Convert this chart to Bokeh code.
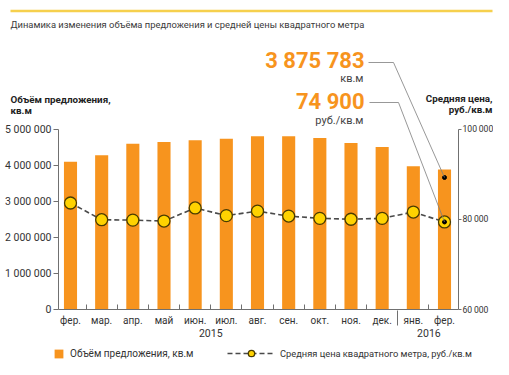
from bokeh.plotting import figure
from bokeh.models import Range1d, LinearAxis, FixedTicker, Label, Arrow, Legend, LegendItem
from bokeh.embed import file_html
from bokeh.resources import INLINE

# ---------------- data ----------------
months = ["фер.", "мар.", "апр.", "май", "июн.", "июл.", "авг.", "сен.", "окт.", "ноя.", "дек.", "янв.", "фер."]
years = ["2015", "2016"]
year_label_pos = [4.5, 11.5]
year_boundary = [10.5]
volume = [4090000, 4270000, 4590000, 4640000, 4690000, 4730000, 4800000,
          4800000, 4750000, 4610000, 4500000, 3970000, 3875783]
price = [83600, 79900, 79800, 79600, 82500, 80800, 81800,
         80700, 80200, 80000, 80200, 81600, 79400]
vol_ticks = [0, 1000000, 2000000, 3000000, 4000000, 5000000]
price_ticks = [60000, 80000, 100000]
price_annot = 74900

title = "Динамика изменения объёма предложения и средней цены квадратного метра"
vol_title = ["Объём предложения,", "кв.м"]
price_title = ["Средняя цена,", "руб./кв.м"]
vol_unit = "кв.м"
price_unit = "руб./кв.м"
legend_vol = "Объём предложения, кв.м"
legend_price = "Средняя цена квадратного метра, руб./кв.м"

# ---------------- style / layout ----------------
ORANGE = "#F7941E"
YELLOW = "#FFD200"
GOLD = "#F6D04D"
TXT = "#333333"
AX = "#707070"
FONT = "Roboto"

W, H = 493, 359
FL, FR, FT, FB = 58, 458, 128.5, 309      # plot-area edges in canvas pixels
X0 = 70
DX = (FR - 14 - X0) / 12
P0, P1 = 60000, 100000


def sx(px):
    return (px - X0) / DX


def sy(py):
    return (FB - py) * 5e6 / (FB - FT)


def sp(py):
    return P0 + (FB - py) / (FB - FT) * (P1 - P0)


def fmt(v, sep=" "):
    return f"{int(v):,}".replace(",", sep)


def price_to_left(v):
    return (v - P0) / (P1 - P0) * 5e6


xs = list(range(len(months)))

# the frame covers the whole canvas; axes are pinned with fixed_location
p = figure(width=W, height=H, output_backend="svg", toolbar_location=None,
           x_range=Range1d(sx(0), sx(W)), y_range=Range1d(sy(H), sy(0)),
           x_axis_type=None, y_axis_type=None,
           min_border_left=0, min_border_right=0, min_border_top=0, min_border_bottom=0)
p.outline_line_color = None
p.background_fill_color = "white"
p.border_fill_color = "white"
p.extra_y_ranges = {"price": Range1d(sp(H), sp(0))}


def style_axis(a, size="10px"):
    a.axis_line_color = AX
    a.major_tick_line_color = AX
    a.minor_tick_line_color = AX
    a.major_label_text_font = FONT
    a.major_label_text_font_size = size
    a.major_label_text_color = TXT


yl = LinearAxis(ticker=FixedTicker(ticks=vol_ticks), fixed_location=sx(FL), bounds=(0, 5e6),
                major_label_overrides={t: fmt(t) for t in vol_ticks})
style_axis(yl, "10.5px")
yl.major_tick_in = 0
yl.major_tick_out = 5
yl.major_label_standoff = 2
p.add_layout(yl, "left")

yr = LinearAxis(y_range_name="price", ticker=FixedTicker(ticks=price_ticks), fixed_location=sx(FR),
                bounds=(P0, P1), major_label_overrides={t: fmt(t, "\u2009") for t in price_ticks})
style_axis(yr, "8.6px")
yr.major_tick_in = 0
yr.major_tick_out = 3
yr.major_label_standoff = 1
p.add_layout(yr, "right")

xm = LinearAxis(ticker=FixedTicker(ticks=xs, minor_ticks=[i + 0.5 for i in range(len(months) - 1)
                                                           if i + 0.5 not in year_boundary]),
                fixed_location=0, bounds=(sx(FL), sx(FR)),
                major_label_overrides={i: m for i, m in enumerate(months)})
style_axis(xm)
xm.major_tick_in = 0
xm.major_tick_out = 0
xm.minor_tick_in = 5
xm.minor_tick_out = 0
xm.major_label_standoff = 5
p.add_layout(xm, "below")

xy = LinearAxis(ticker=FixedTicker(ticks=year_label_pos, minor_ticks=year_boundary),
                fixed_location=sy(325), bounds=(sx(FL), sx(FR)),
                major_label_overrides={pos: y for pos, y in zip(year_label_pos, years)})
style_axis(xy, "10.5px")
xy.axis_line_color = None
xy.major_tick_in = 0
xy.major_tick_out = 0
xy.minor_tick_in = 15
xy.minor_tick_out = 0
xy.major_label_standoff = 3
p.add_layout(xy, "below")

# ---------------- glyphs ----------------
bars = p.vbar(x=xs, top=volume, width=0.42, fill_color=ORANGE, line_color=None)
pline = p.line(xs, price, y_range_name="price", line_color="#4a4a4a", line_width=1.6, line_dash="5 3")
pts = p.scatter(xs, price, y_range_name="price", size=12, fill_color=YELLOW,
                line_color="#4a3c00", line_width=1.3)

# leader dots
bar_dot_y = sy(177)
p.scatter([xs[-1]], [bar_dot_y], size=4, color="black")
p.scatter([xs[-1]], [price[-1]], y_range_name="price", size=4, color="black")

# ---------------- annotations ----------------
p.add_layout(Arrow(end=None, x_start=sx(10), y_start=sy(10.5), x_end=sx(492), y_end=sy(10.5),
                   line_color=GOLD, line_width=2.5))
p.add_layout(Label(x=sx(10), y=sy(24), text=title, text_font=FONT, text_font_size="9.4px",
                   text_color="#3a3a3a", text_baseline="middle"))

for i, t in enumerate(vol_title):
    p.add_layout(Label(x=sx(10), y=sy(98.5 + 11 * i), text=t, text_font=FONT, text_font_size="9.8px",
                       text_font_style="bold", text_color="#222222", text_baseline="middle"))
for i, t in enumerate(price_title):
    p.add_layout(Label(x=sx(492), y=sy(97.5 + 11 * i), text=t, text_font=FONT, text_font_size="9.8px",
                       text_font_style="bold", text_color="#222222", text_baseline="middle",
                       text_align="right"))

p.add_layout(Label(x=sx(364), y=sy(60), text=fmt(volume[-1]), text_font=FONT, text_font_size="22px",
                   text_font_style="bold", text_color=ORANGE, text_baseline="middle", text_align="right"))
p.add_layout(Label(x=sx(363), y=sy(78), text=vol_unit, text_font=FONT, text_font_size="11px",
                   text_color="#444444", text_baseline="middle", text_align="right"))
p.add_layout(Label(x=sx(364), y=sy(101), text=fmt(price_annot), text_font=FONT, text_font_size="22px",
                   text_font_style="bold", text_color=ORANGE, text_baseline="middle", text_align="right"))
p.add_layout(Label(x=sx(363), y=sy(120), text=price_unit, text_font=FONT, text_font_size="11px",
                   text_color="#444444", text_baseline="middle", text_align="right"))

LEAD = "#7d7d7d"
for (x1, y1, x2, y2) in [(sx(368), sy(62), sx(393), sy(62)),
                         (sx(393), sy(62), xs[-1], bar_dot_y),
                         (sx(369), sy(102), sx(398), sy(102)),
                         (sx(398), sy(102), xs[-1], price_to_left(price[-1]))]:
    p.add_layout(Arrow(end=None, x_start=x1, y_start=y1, x_end=x2, y_end=y2,
                       line_color=LEAD, line_width=0.8))

# ---------------- legends ----------------
common = dict(orientation="horizontal", label_height=11, padding=0, margin=0, spacing=0,
              border_line_color=None, background_fill_alpha=0,
              label_text_font=FONT, label_text_color=TXT)
leg1 = Legend(items=[LegendItem(label=legend_vol, renderers=[bars])],
              location=(53, 0), glyph_width=11, glyph_height=11, label_standoff=6,
              label_text_font_size="10px", **common)
leg2 = Legend(items=[LegendItem(label=legend_price, renderers=[pline, pts])],
              location=(227, -2), glyph_width=48, glyph_height=16, label_standoff=5,
              label_text_font_size="9.3px", **common)
p.add_layout(leg1)
p.add_layout(leg2)

open("out.html", "w").write(file_html(p, INLINE))
